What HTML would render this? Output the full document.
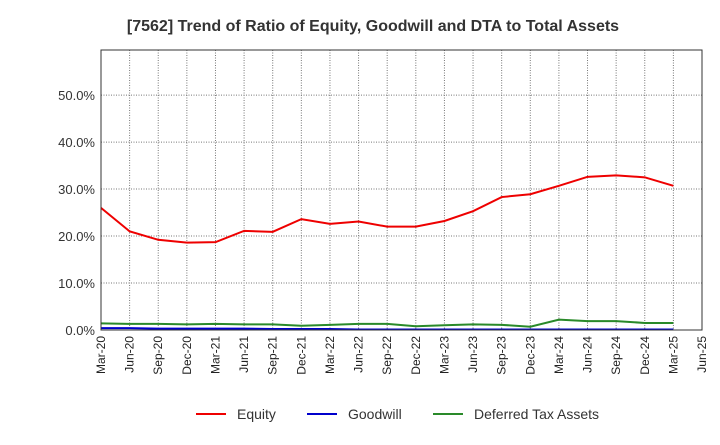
<!DOCTYPE html>
<html><head><meta charset="utf-8"><style>
body{margin:0;background:#fff;font-family:"Liberation Sans",Arial,sans-serif;}
svg text{font-family:"Liberation Sans",Arial,sans-serif;}
</style></head><body>
<svg id="chart" width="720" height="440" xmlns="http://www.w3.org/2000/svg">
<text x="373" y="31" text-anchor="middle" font-size="16" font-weight="bold" fill="#333">[7562]  Trend of Ratio of Equity, Goodwill and DTA to Total Assets</text>
<g id="grid"></g>
<g id="yaxis"></g>
<g id="xaxis"></g>
<g id="series"></g>
<rect x="101" y="50" width="601" height="280" fill="none" stroke="#333" stroke-width="1"/>
<g>
<g><line x1="196" y1="414" x2="226" y2="414" stroke="#e00" stroke-width="2"/><text x="237" y="419" font-size="14" fill="#333">Equity</text></g>
<g><line x1="307" y1="414" x2="337" y2="414" stroke="#0000cc" stroke-width="2"/><text x="348" y="419" font-size="14" fill="#333">Goodwill</text></g>
<g><line x1="433" y1="414" x2="463" y2="414" stroke="#2a8a2a" stroke-width="2"/><text x="474" y="419" font-size="14" fill="#333">Deferred Tax Assets</text></g>
</g>
</svg>
<script>
const categories=["Mar-20","Jun-20","Sep-20","Dec-20","Mar-21","Jun-21","Sep-21","Dec-21","Mar-22","Jun-22","Sep-22","Dec-22","Mar-23","Jun-23","Sep-23","Dec-23","Mar-24","Jun-24","Sep-24","Dec-24","Mar-25","Jun-25"];
const equity=[26.0,21.0,19.2,18.6,18.7,21.1,20.9,23.6,22.6,23.1,22.0,22.0,23.2,25.3,28.3,28.9,30.7,32.6,32.9,32.5,30.7];
const goodwill=[0.4,0.4,0.3,0.3,0.3,0.3,0.2,0.2,0.2,0.1,0.1,0.1,0.1,0.1,0.1,0.1,0.1,0.1,0.1,0.1,0.1];
const dta=[1.4,1.3,1.3,1.2,1.3,1.2,1.2,0.9,1.1,1.3,1.3,0.8,1.0,1.2,1.1,0.7,2.2,1.9,1.9,1.5,1.5];
const yTicks=[0,10,20,30,40,50];
const NS="http://www.w3.org/2000/svg";
const x0=101,x1=702,y0=330,yTop=50,yMax=59.6;
const xs=i=>x0+i*(x1-x0)/(categories.length-1);
const ys=v=>y0-v*(y0-yTop)/yMax;
function mk(tag,attrs,parent){const e=document.createElementNS(NS,tag);for(const k in attrs)e.setAttribute(k,attrs[k]);document.getElementById(parent).appendChild(e);return e;}
categories.forEach((c,i)=>{
 const g=mk("line",{x1:xs(i),x2:xs(i),y1:yTop,y2:y0,stroke:"#777","stroke-dasharray":"1,1.5","stroke-width":1},"grid");
 
 
 const x=xs(i);
 const t=mk("text",{x:x+4,y:y0+6,"font-size":12,fill:"#222","text-anchor":"end",transform:`rotate(-90 ${x+4} ${y0+6})`},"xaxis");
 t.textContent=c;
 
 
});
yTicks.forEach(v=>{
 const g=mk("line",{x1:x0,x2:x1,y1:ys(v),y2:ys(v),stroke:"#777","stroke-dasharray":"1,1.5","stroke-width":1},"grid");
 
 
 const t=mk("text",{x:x0-6,y:ys(v)+5,"font-size":13,fill:"#333","text-anchor":"end"},"yaxis");
 t.textContent=v.toFixed(1)+"%";
 
 
});
[[dta,"#2a8a2a","dta-line"],[goodwill,"#0000cc","goodwill-line"],[equity,"#e00","equity-line"]].forEach(([d,col,name])=>{
 const p=mk("polyline",{points:d.map((v,i)=>xs(i)+","+ys(v)).join(" "),fill:"none",stroke:col,"stroke-width":2},"series");
 
 
});
</script>
</body></html>
